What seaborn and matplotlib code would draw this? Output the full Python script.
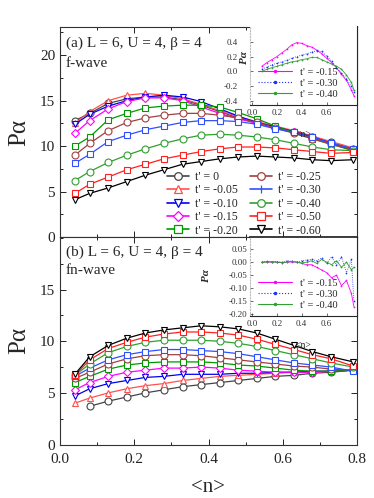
import numpy as np
import pandas as pd
import matplotlib
matplotlib.use("Agg")
import matplotlib.pyplot as plt
import seaborn as sns
from matplotlib.lines import Line2D
from matplotlib.ticker import MultipleLocator

# ---------------- data ----------------
n_main = [0.04, 0.08, 0.13, 0.18, 0.23, 0.28, 0.33, 0.38, 0.43, 0.48, 0.53, 0.58, 0.63, 0.68, 0.73, 0.79]

t_labels = ["t' = 0", "t' = -0.05", "t' = -0.10", "t' = -0.15", "t' = -0.20",
            "t' = -0.25", "t' = -0.30", "t' = -0.40", "t' = -0.50", "t' = -0.60"]

# (a) f-wave
f_t000 = [12.8, 13.6, 14.7, 15.2, 15.4, 15.4, 15.1, 14.5, 13.8, 13.1, 12.6, 12.1, 11.6, 11.0, 10.4, 9.7]
f_t005 = [12.5, 13.8, 15.0, 15.6, 15.8, 15.6, 15.2, 14.6, 13.9, 13.2, 12.7, 12.2, 11.7, 11.1, 10.5, 9.8]
f_t010 = [12.4, 13.5, 14.4, 15.0, 15.4, 15.6, 15.4, 14.9, 14.1, 13.3, 12.6, 12.1, 11.6, 11.0, 10.3, 9.5]
f_t015 = [11.4, 12.8, 14.1, 14.9, 15.3, 15.3, 15.0, 14.3, 13.6, 13.0, 12.5, 12.0, 11.5, 10.9, 10.3, 9.6]
f_t020 = [10.0, 11.0, 12.9, 13.6, 14.2, 14.4, 14.5, 14.5, 14.3, 13.7, 13.0, 12.2, 11.5, 10.8, 10.2, 9.5]
f_t025 = [9.0, 10.3, 11.7, 12.6, 13.1, 13.4, 13.6, 13.6, 13.4, 13.1, 12.6, 12.0, 11.4, 10.8, 10.2, 9.6]
f_t030 = [8.1, 9.1, 10.5, 11.2, 11.8, 12.2, 12.6, 12.8, 12.8, 12.7, 12.4, 11.9, 11.5, 11.0, 10.3, 9.7]
f_t040 = [6.2, 7.2, 8.2, 9.0, 9.7, 10.3, 10.8, 11.2, 11.3, 11.2, 11.0, 10.7, 10.3, 9.9, 9.6, 9.5]
f_t050 = [4.8, 5.8, 6.6, 7.4, 8.0, 8.6, 9.0, 9.4, 9.7, 9.9, 9.9, 9.8, 9.6, 9.4, 9.2, 9.3]
f_t060 = [4.1, 4.8, 5.4, 6.1, 6.8, 7.4, 8.0, 8.3, 8.6, 8.8, 8.9, 8.8, 8.7, 8.5, 8.4, 8.5]

# (b) fn-wave
fn_t000 = [np.nan, 3.7, 4.2, 4.6, 5.0, 5.3, 5.6, 5.8, 6.0, 6.2, 6.4, 6.6, 6.7, 6.9, 7.0, 7.2]
fn_t005 = [4.0, 4.5, 5.0, 5.4, 5.7, 5.9, 6.2, 6.4, 6.6, 6.7, 6.8, 6.9, 7.0, 7.0, 7.1, 7.2]
fn_t010 = [4.7, 5.4, 5.9, 6.2, 6.5, 6.6, 6.8, 6.8, 6.8, 6.9, 6.9, 7.0, 7.0, 7.1, 7.1, 7.2]
fn_t015 = [5.3, 6.0, 6.6, 7.0, 7.2, 7.4, 7.4, 7.5, 7.4, 7.2, 7.1, 7.0, 7.0, 7.0, 7.1, 7.2]
fn_t020 = [6.0, 6.6, 7.3, 7.7, 7.9, 8.0, 8.0, 8.0, 7.9, 7.7, 7.6, 7.4, 7.2, 7.1, 7.1, 7.2]
fn_t025 = [6.4, 7.0, 7.8, 8.3, 8.6, 8.7, 8.7, 8.6, 8.4, 8.2, 8.0, 7.8, 7.6, 7.5, 7.3, 7.2]
fn_t030 = [6.6, 7.4, 8.2, 8.7, 9.0, 9.2, 9.2, 9.1, 9.0, 8.8, 8.5, 8.2, 7.9, 7.7, 7.5, 7.1]
fn_t040 = [6.7, 7.8, 8.9, 9.5, 9.9, 10.1, 10.1, 10.1, 10.0, 9.8, 9.5, 9.1, 8.7, 8.3, 7.9, 7.5]
fn_t050 = [6.7, 8.2, 9.3, 9.9, 10.4, 10.7, 10.9, 10.9, 10.8, 10.6, 10.2, 9.7, 9.2, 8.7, 8.3, 7.6]
fn_t060 = [6.8, 8.5, 9.6, 10.3, 10.8, 11.1, 11.3, 11.5, 11.4, 11.2, 10.8, 10.2, 9.6, 9.0, 8.5, 8.0]

# insets
n_inset = [0.08, 0.12, 0.16, 0.20, 0.24, 0.28, 0.32, 0.36, 0.40, 0.44, 0.48, 0.52, 0.56,
           0.60, 0.64, 0.68, 0.72, 0.76, 0.80, 0.82]
inset_labels = ["t' = -0.15", "t' = -0.30", "t' = -0.40"]
fin_t015 = [0.07, 0.12, 0.16, 0.20, 0.25, 0.30, 0.36, 0.39, 0.38, 0.35, 0.33, 0.29, 0.24,
            0.18, 0.12, 0.05, -0.04, -0.12, -0.25, -0.33]
fin_t030 = [0.03, 0.06, 0.09, 0.11, 0.13, 0.15, 0.18, 0.20, 0.22, 0.24, 0.26, 0.28, 0.27,
            0.21, 0.14, 0.05, -0.02, -0.10, -0.20, -0.28]
fin_t040 = [0.00, 0.03, 0.05, 0.07, 0.09, 0.11, 0.13, 0.14, 0.16, 0.17, 0.19, 0.19, 0.16,
            0.13, 0.10, 0.07, 0.03, -0.05, -0.15, -0.25]
fnin_t015 = [0.000, 0.000, 0.000, 0.000, -0.002, 0.000, 0.000, 0.000, -0.005, -0.010, -0.010,
             -0.020, -0.030, -0.040, -0.060, -0.050, -0.090, -0.070, -0.120, -0.170]
fnin_t030 = [0.000, 0.003, 0.000, 0.002, 0.000, 0.005, 0.003, 0.000, 0.005, 0.008, 0.010,
             0.005, 0.015, -0.005, 0.020, -0.010, 0.020, -0.040, 0.010, -0.150]
fnin_t040 = [0.000, 0.000, 0.002, 0.000, -0.002, 0.000, 0.003, 0.000, -0.003, 0.000, 0.005,
             -0.005, 0.010, 0.000, -0.010, 0.005, -0.020, 0.000, -0.030, -0.020]

f_series = [f_t000, f_t005, f_t010, f_t015, f_t020, f_t025, f_t030, f_t040, f_t050, f_t060]
fn_series = [fn_t000, fn_t005, fn_t010, fn_t015, fn_t020, fn_t025, fn_t030, fn_t040, fn_t050, fn_t060]

# ---------------- styles ----------------
colors = ["#444444", "#ff5050", "#0000ee", "#ff00ff", "#009900",
          "#a04040", "#3050ff", "#30a030", "#ff2020", "#000000"]
markers = ["o", "^", "v", "D", "s", "o", "s", "o", "s", "v"]
msizes = [5, 5, 5, 4.2, 4.6, 5, 4.6, 5, 4.6, 5]
inset_colors = ["#ff00ff", "#2030ff", "#30a030"]
inset_ls = ["-", ":", "-"]

sns.set_theme(style="ticks")
plt.rcParams["font.family"] = ["Liberation Serif", "DejaVu Serif"]

W, H = 374, 498
fig = plt.figure(figsize=(W / 100, H / 100), dpi=100)

def fx(px):
    return px / W

def fy(py):
    return 1 - py / H

ax_a = fig.add_axes([fx(60), fy(237), fx(357) - fx(60), fy(27) - fy(237)])
ax_b = fig.add_axes([fx(60), fy(444.5), fx(357) - fx(60), fy(237) - fy(444.5)])

def draw_main(ax, series):
    for vals, c, m, ms in zip(series, colors, markers, msizes):
        sns.lineplot(x=n_main, y=vals, ax=ax, color=c, marker=m, markersize=ms,
                     markerfacecolor="white", markeredgecolor=c, markeredgewidth=0.8,
                     linewidth=0.9, legend=False)

draw_main(ax_a, f_series)
draw_main(ax_b, fn_series)

for ax, top in ((ax_a, 23.1), (ax_b, 20.1)):
    ax.set_xlim(0, 0.8)
    ax.set_ylim(0, top)
    ax.xaxis.set_major_locator(MultipleLocator(0.2))
    ax.xaxis.set_minor_locator(MultipleLocator(0.1))
    ax.yaxis.set_major_locator(MultipleLocator(5))
    ax.yaxis.set_minor_locator(MultipleLocator(2.5))
    ax.tick_params(which="both", direction="in", top=True, right=True, labelsize=11,
                   width=0.7, colors="#222222")
    ax.tick_params(axis="x", which="major", pad=6)
    ax.tick_params(which="major", length=4)
    ax.tick_params(which="minor", length=2)
    for s in ax.spines.values():
        s.set_linewidth(0.8)
        s.set_color("#333333")
    ax.set_xlabel("")
    ax.set_ylabel("Pα", fontsize=18)
    ax.yaxis.set_label_coords(-0.10, 0.5)

ax_a.set_yticks([0, 5, 10, 15, 20])
ax_a.tick_params(labelbottom=False)
ax_b.set_yticks([0, 5, 10, 15])
ax_b.set_xticks([0.0, 0.2, 0.4, 0.6, 0.8])
ax_b.set_xticklabels(["0.0", "0.2", "0.4", "0.6", "0.8"])
ax_b.set_xlabel("<n>", fontsize=15, labelpad=9)

ax_a.text(0.02, 0.955, "(a) L = 6, U = 4, β = 4", transform=ax_a.transAxes,
          fontsize=11, va="top", ha="left")
ax_a.text(0.02, 0.855, "f-wave", transform=ax_a.transAxes, fontsize=11, va="top", ha="left")
ax_b.text(0.02, 0.96, "(b) L = 6, U = 4, β = 4", transform=ax_b.transAxes,
          fontsize=11, va="top", ha="left")
ax_b.text(0.02, 0.87, "fn-wave", transform=ax_b.transAxes, fontsize=11, va="top", ha="left")

# legend in panel (a)
handles = []
for lab, c, m, ms in zip(t_labels, colors, markers, msizes):
    mk = "|" if lab == "t' = -0.30" else m
    handles.append(Line2D([], [], color=c, marker=mk, markersize=ms + 0.5,
                          markerfacecolor="white", markeredgecolor=c,
                          markeredgewidth=0.9, linewidth=1.2, label=lab))
ax_a.legend(handles=handles, ncol=2, loc="upper left", bbox_to_anchor=(0.36, 0.315),
            frameon=False, fontsize=8.5, handlelength=1.9, handletextpad=0.5,
            columnspacing=1.0, labelspacing=0.12, borderpad=0, borderaxespad=0)

# insets
def make_inset(top_px, bottom_px, ylim, yticks, yfmt, series, ylab_xy, xlab_y, top_spine, ypad):
    axi = fig.add_axes([fx(250), fy(bottom_px), fx(357) - fx(250), fy(top_px) - fy(bottom_px)])
    axi.set_zorder(5)
    axi.set_facecolor("white")
    for vals, c, ls, lab in zip(series, inset_colors, inset_ls, inset_labels):
        sns.lineplot(x=n_inset, y=vals, ax=axi, color=c, linestyle=ls, linewidth=0.6,
                     marker=".", markersize=2.5, markeredgewidth=0, label=lab, legend=False)
    axi.set_xlim(-0.016, 0.845)
    axi.set_ylim(*ylim)
    axi.set_xticks([0.0, 0.2, 0.4, 0.6])
    axi.set_xticklabels(["0.0", "0.2", "0.4", "0.6"])
    axi.set_yticks(yticks)
    axi.set_yticklabels([yfmt.format(v) for v in yticks])
    axi.tick_params(which="both", direction="in", labelsize=6.5, length=2, width=0.5,
                    pad=2, colors="#333333")
    axi.tick_params(axis="y", pad=ypad)
    axi.tick_params(axis="x", pad=3)
    axi.spines["left"].set_color("#bbbbbb")
    axi.spines["left"].set_linestyle(":")
    axi.spines["left"].set_linewidth(0.8)
    axi.spines["top"].set_visible(top_spine)
    axi.spines["bottom"].set_linewidth(0.8)
    axi.spines["right"].set_linewidth(0.8)
    axi.set_xlabel("<n>", fontsize=7, labelpad=0)
    axi.xaxis.set_label_coords(0.5, xlab_y)
    axi.set_ylabel("Pα", fontsize=8, style="italic", fontweight="bold")
    axi.yaxis.set_label_coords(*ylab_xy)
    hs = [Line2D([], [], color=c, linestyle=ls, linewidth=0.8, marker=".", markersize=3,
                 label=lab) for c, ls, lab in zip(inset_colors, inset_ls, inset_labels)]
    axi.legend(handles=hs, loc="lower left", bbox_to_anchor=(0.02, 0.0), frameon=False,
               fontsize=7.5, handlelength=3.2, handletextpad=0.8, labelspacing=0.15,
               borderpad=0.1)
    return axi

make_inset(26, 105, (-0.455, 0.615), [-0.4, -0.2, 0.0, 0.2, 0.4], "{:.1f}",
           [fin_t015, fin_t030, fin_t040], (-0.005, 0.6), -0.32, False, 9)
make_inset(237.5, 316, (-0.206, 0.094), [-0.20, -0.15, -0.10, -0.05, 0.00, 0.05], "{:.2f}",
           [fnin_t015, fnin_t030, fnin_t040], (-0.36, 0.52), -0.32, True, 2)

fig.savefig("out.png", dpi=100)
